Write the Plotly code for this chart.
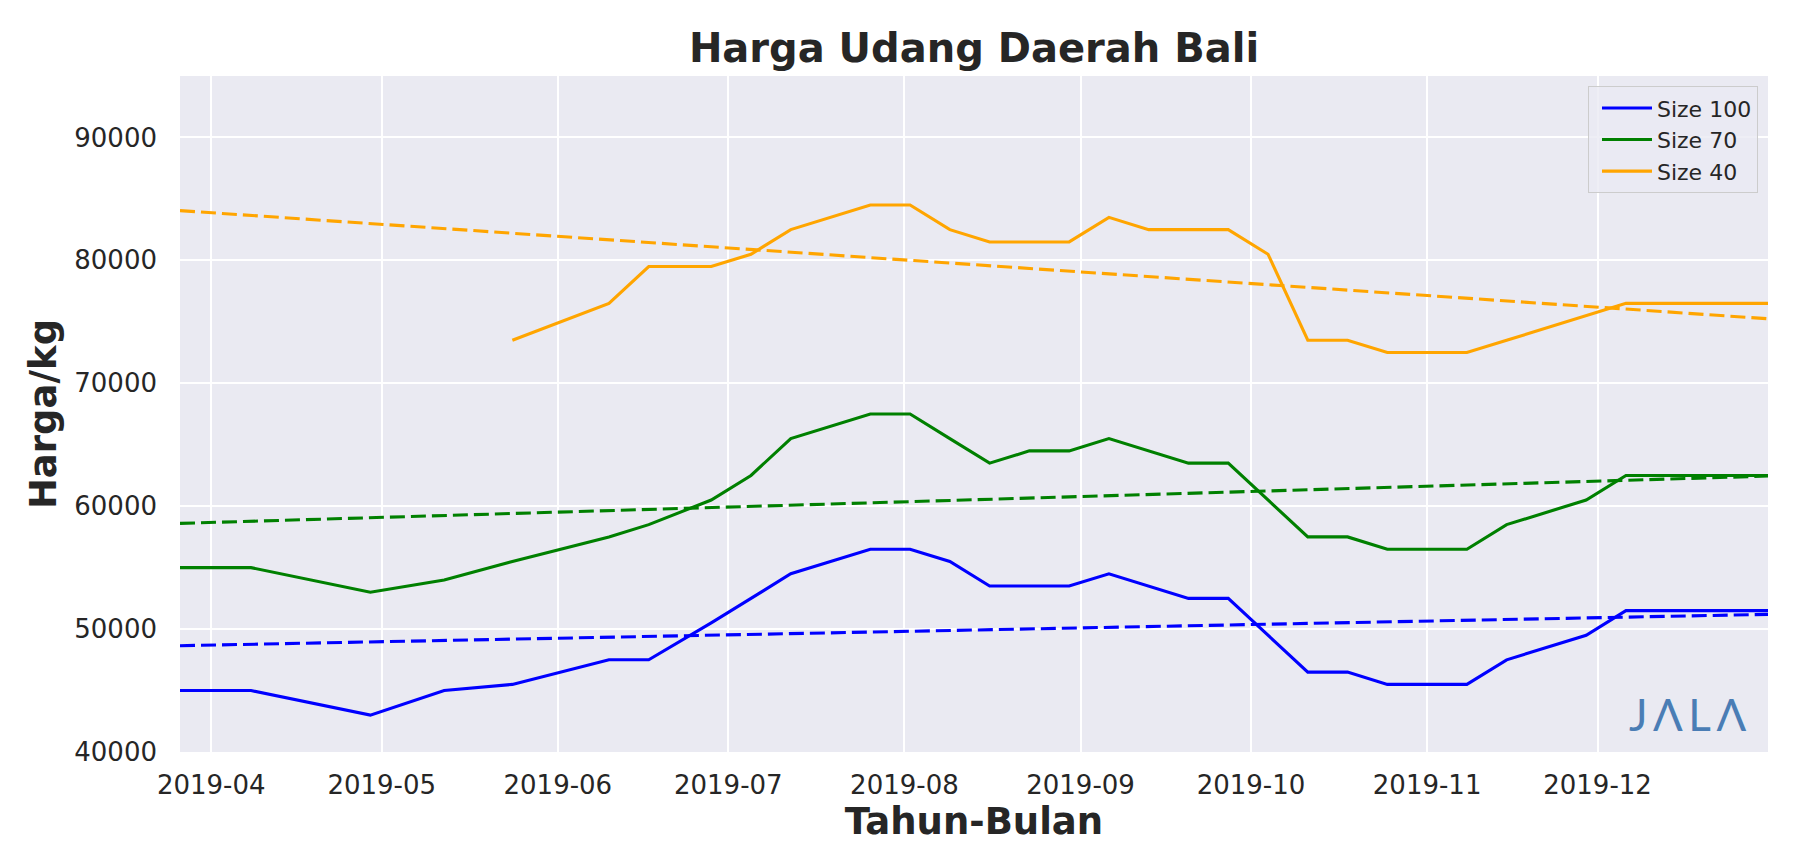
import plotly.graph_objects as go

# ---- data ----
dates = ["2019-03-26", "2019-04-08", "2019-04-29", "2019-05-12", "2019-05-24",
         "2019-06-10", "2019-06-17", "2019-06-28", "2019-07-05", "2019-07-12",
         "2019-07-26", "2019-08-02", "2019-08-09", "2019-08-16", "2019-08-23",
         "2019-08-30", "2019-09-06", "2019-09-13", "2019-09-20", "2019-09-27",
         "2019-10-04", "2019-10-11", "2019-10-18", "2019-10-25", "2019-11-01",
         "2019-11-08", "2019-11-15", "2019-11-29", "2019-12-06", "2019-12-31"]

size_100 = [45000, 45000, 43000, 45000, 45500, 47500, 47500, 50500, 52500, 54500,
            56500, 56500, 55500, 53500, 53500, 53500, 54500, 53500, 52500, 52500,
            49500, 46500, 46500, 45500, 45500, 45500, 47500, 49500, 51500, 51500]

size_70 = [55000, 55000, 53000, 54000, 55500, 57500, 58500, 60500, 62500, 65500,
           67500, 67500, 65500, 63500, 64500, 64500, 65500, 64500, 63500, 63500,
           60500, 57500, 57500, 56500, 56500, 56500, 58500, 60500, 62500, 62500]

size_40 = [None, None, None, None, 73500, 76500, 79500, 79500, 80500, 82500,
           84500, 84500, 82500, 81500, 81500, 81500, 83500, 82500, 82500, 82500,
           80500, 73500, 73500, 72500, 72500, 72500, 73500, 75500, 76500, 76500]

# linear trend lines (end values)
trend_dates = ["2019-03-26 12:00", "2019-12-31"]
trend_100 = [48650, 51200]
trend_70 = [58600, 62450]
trend_40 = [84050, 75250]

series_names = ["Size 100", "Size 70", "Size 40"]
series_colors = ["blue", "green", "orange"]

x_ticks = ["2019-04-01", "2019-05-01", "2019-06-01", "2019-07-01", "2019-08-01",
           "2019-09-01", "2019-10-01", "2019-11-01", "2019-12-01"]
y_ticks = [40000, 50000, 60000, 70000, 80000, 90000]

FONT = "DejaVu Sans"
TXT = "#262626"

fig = go.Figure()
for name, vals, col in zip(series_names, [size_100, size_70, size_40], series_colors):
    fig.add_trace(go.Scatter(x=dates, y=vals, mode="lines", name=name,
                             line=dict(color=col, width=3.1), connectgaps=False))
for vals, col in zip([trend_100, trend_70, trend_40], series_colors):
    fig.add_trace(go.Scatter(x=trend_dates, y=vals, mode="lines", showlegend=False,
                             line=dict(color=col, width=3.1, dash="15px,6px")))

fig.update_layout(
    width=1800, height=848,
    margin=dict(l=180, r=32, t=76, b=96),
    paper_bgcolor="white",
    plot_bgcolor="#EAEAF2",
    font=dict(family=FONT, color=TXT),
    title=dict(text="<b>Harga Udang Daerah Bali</b>", x=(180 + 1768) / 2 / 1800,
               xanchor="center", xref="container", y=1 - 48 / 848, yanchor="middle",
               yref="container", font=dict(size=40, family=FONT, color=TXT)),
    xaxis=dict(
        type="date",
        range=["2019-03-26 12:00", "2019-12-31"],
        tickvals=x_ticks, tickformat="%Y-%m",
        showgrid=True, gridcolor="white", gridwidth=2,
        zeroline=False, showline=False,
        ticks="", ticklabelstandoff=15,
        tickfont=dict(size=26, family=FONT, color=TXT),
        title=dict(text="<b>Tahun-Bulan</b>", font=dict(size=37, family=FONT, color=TXT),
                   standoff=7),
    ),
    yaxis=dict(
        range=[40000, 95000],
        tickvals=y_ticks, tickformat="d",
        showgrid=True, gridcolor="white", gridwidth=2,
        zeroline=False, showline=False,
        ticks="", ticklabelstandoff=22,
        tickfont=dict(size=26, family=FONT, color=TXT),
        title=dict(text="<b>Harga/kg</b>", font=dict(size=37, family=FONT, color=TXT),
                   standoff=6),
    ),
    legend=dict(
        x=0.9937, xanchor="right", y=0.985, yanchor="top",
        bgcolor="rgba(234,234,242,0.8)", bordercolor="#CCCCCC", borderwidth=1,
        font=dict(size=22, family=FONT, color=TXT),
        tracegroupgap=0, itemwidth=50, indentation=8,
    ),
    annotations=[dict(
        text="J\u2009\u039B\u2009L\u2009\u039B", x=0.949, y=0.056, xref="paper", yref="paper",
        xanchor="center", yanchor="middle", showarrow=False,
        font=dict(size=44, family="Lato", color="#4A7DB5"),
    )],
)

fig.write_html("out.html")
